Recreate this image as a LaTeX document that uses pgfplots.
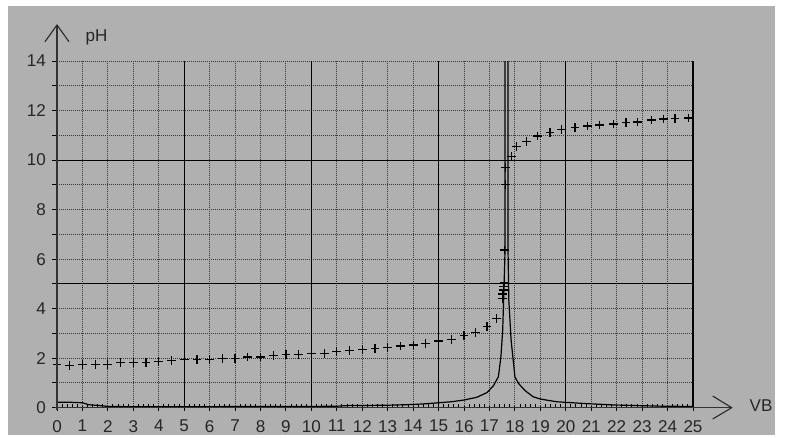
\documentclass[border=0pt]{standalone}
\usepackage{fontspec}
\setmainfont{Liberation Sans}
\usepackage{pgfplots}
\pgfplotsset{compat=1.18}
\definecolor{bg}{HTML}{B0B0B0}
\newcommand{\lblfont}{\fontsize{12.8}{14}\selectfont}

\begin{document}
\begin{tikzpicture}
\begin{scope}[x=0.75pt,y=-0.75pt]
\fill[white] (0,0) rectangle (786,438);
\fill[bg] (8,6) rectangle (775,435);
\end{scope}
\begin{axis}[
  at={(42.75pt,-305.78pt)}, anchor=south west,
  scale only axis, width=477pt, height=260pt,
  xmin=0, xmax=25, ymin=0, ymax=14,
  axis line style={draw=none},
  tick pos=left, tick align=outside,
  major tick length=3.75pt, minor tick length=3pt,
  every tick/.style={black, line width=0.75pt},
  minor x tick num=4,
  minor x tick style={yshift=3pt},
  major x tick style={yshift=1.5pt},
  xtick={0,...,25},
  ytick={0,...,14},
  yticklabels={0,,2,,4,,6,,8,,10,,12,,14},
  /pgf/number format/assume math mode=true,
  tick label style={font=\lblfont, text=black!85},
  xticklabel style={yshift=-2pt},
  yticklabel style={xshift=-1pt},
  grid=major,
  major grid style={black!78, line width=0.75pt, dash pattern=on 0.75pt off 0.75pt},
  extra x ticks={5,10,15,20,25},
  extra x tick labels={},
  extra x tick style={grid=major, major grid style={solid, black, line width=0.8pt}},
  extra y ticks={5,10},
  extra y tick labels={},
  extra y tick style={grid=major, major grid style={solid, black, line width=0.8pt}},
]
% derivative curve
\addplot[black, line width=0.9pt, mark=none] coordinates {
(0,0.22) (0.5,0.22) (1,0.2) (1.25,0.12) (1.5,0.1) (1.75,0.08) (2,0.05) (3,0.04) (4,0.04) (5,0.04) (6,0.04) (7,0.05) (8,0.05) (9,0.05) (10,0.05) (11,0.06) (11.5,0.09) (12,0.09) (13,0.1) (14,0.13) (14.5,0.16) (15,0.2) (15.5,0.24) (16,0.31) (16.5,0.42) (16.9,0.61) (17.15,0.88) (17.35,1.25) (17.45,2.06) (17.52,3.14) (17.57,4.8) (17.61,6.3) (17.61,60) (17.73,60) (17.73,6.3) (17.76,4.35) (17.85,2.73) (18.0,1.25) (18.14,0.98) (18.4,0.69) (18.72,0.44) (19.0,0.35) (19.64,0.24) (20.56,0.18) (21.87,0.11) (23.83,0.06) (25,0.05)
};
% pH data
\addplot[only marks, mark=+, mark size=3.3pt, black, line width=0.9pt] coordinates {
(0,1.76) (0.5,1.71) (1,1.76) (1.5,1.76) (2,1.76) (2.5,1.82) (3,1.82) (3.5,1.82) (4,1.86) (4.5,1.9) (5,1.95) (5.5,1.95) (6,1.95) (6.5,2.0) (7,2.0) (7.5,2.05) (8,2.05) (8.5,2.1) (9,2.15) (9.5,2.15) (10,2.2) (10.5,2.2) (11,2.27) (11.5,2.3) (12,2.35) (12.5,2.39) (13,2.42) (13.5,2.49) (14,2.53) (14.5,2.6) (15,2.69) (15.5,2.76) (16,2.9) (16.45,3.05) (16.9,3.27) (17.28,3.61) (17.50,4.42) (17.52,4.59) (17.54,4.75) (17.56,4.89) (17.58,5.05) (17.60,6.37) (17.62,9.0) (17.64,9.71) (17.86,10.16) (18.07,10.54) (18.46,10.74) (18.9,10.97) (19.38,11.11) (19.84,11.22) (20.36,11.32) (20.85,11.38) (21.34,11.42) (21.87,11.46) (22.37,11.51) (22.83,11.54) (23.38,11.62) (23.83,11.66) (24.29,11.67) (24.82,11.7)
};
\end{axis}
\begin{scope}[x=0.75pt,y=-0.75pt]
\draw[black!80, line width=1.1pt] (57,410) -- (57,25);
\draw[black!80, line width=1.1pt] (55,407.7) -- (731,407.7);
\draw[black!85, line width=0.8pt] (45,41.7) -- (57,25) -- (69,41.7);
\draw[black!85, line width=0.8pt] (712.7,396) -- (731.7,407.7) -- (712.7,419);
\node[font=\lblfont, text=black!85, anchor=west] at (81,37) {pH};
\node[font=\lblfont, text=black!85, anchor=west] at (745,406) {VB};
\end{scope}
\end{tikzpicture}
\end{document}
